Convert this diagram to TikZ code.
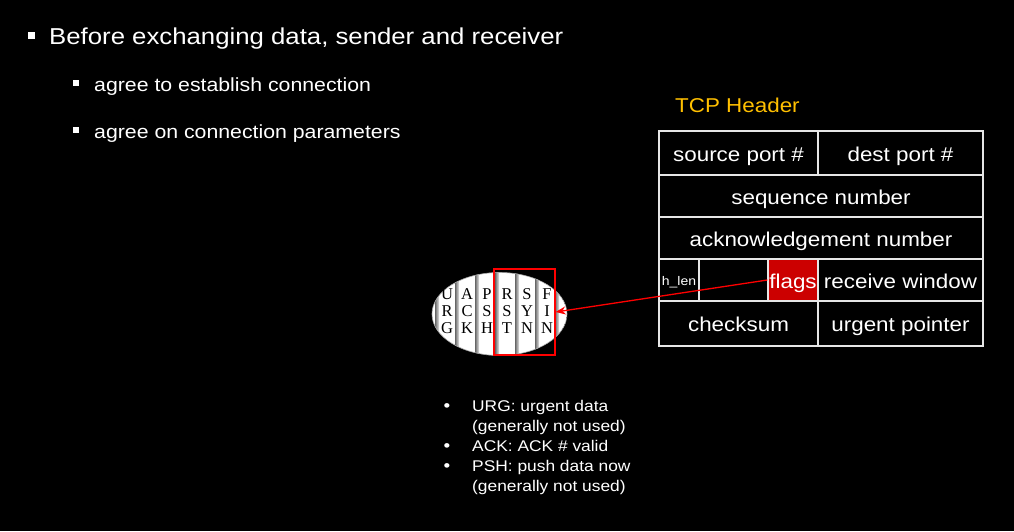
\documentclass[tikz,border=0pt]{standalone}
\usepackage{fontspec}
\setmainfont{Liberation Sans}[FakeStretch=1.12]
\newfontfamily\timesfont{Liberation Serif}
\usetikzlibrary{arrows.meta}
\definecolor{hdrorange}{HTML}{FFC000}
\definecolor{flagred}{HTML}{CC0000}
\definecolor{gridline}{HTML}{E6E6E6}
\begin{document}
\begin{tikzpicture}[x=1pt,y=-1pt,
  cell/.style={draw=gridline, line width=1.3pt, text=white, inner sep=0pt,
    text height=16pt, text depth=0pt,
    font=\fontsize{20}{24}\selectfont, anchor=center},
  letter/.style={font=\timesfont\fontsize{16.5}{17}\selectfont, text=black, inner sep=0pt},
  note/.style={text=white, font=\fontsize{15.5}{20}\selectfont, anchor=base west, inner sep=0pt},
  dot/.style={text=white, font=\fontsize{17}{20}\selectfont, anchor=base, inner sep=0pt}
]
\fill[black] (0,0) rectangle (1014,531);
\useasboundingbox (0,0) rectangle (1014,531);

% slide bullets
\fill[white] (28,32) rectangle (35,39);
\node[text=white, anchor=base west, inner sep=0pt, font=\fontsize{23}{28}\selectfont] (t1) at (49,44) {Before exchanging data, sender and receiver};
\fill[white] (73,80) rectangle (79,86);
\node[text=white, anchor=base west, inner sep=0pt, font=\fontsize{19}{24}\selectfont] (t2) at (94,91) {agree to establish connection};
\fill[white] (73,127) rectangle (79,133);
\node[text=white, anchor=base west, inner sep=0pt, font=\fontsize{19}{24}\selectfont] (t3) at (94,138) {agree on connection parameters};

% TCP header table
\node[text=hdrorange, anchor=base west, inner sep=0pt, font=\fontsize{20}{24}\selectfont] (hdr) at (675,112) {TCP Header};
\node[cell, minimum width=159pt, minimum height=44pt] (sp) at (738.5,153) {source port \#};
\node[cell, minimum width=165pt, minimum height=44pt] (dp) at (900.5,153) {dest port \#};
\node[cell, minimum width=324pt, minimum height=42pt] (seq) at (821,196) {sequence number};
\node[cell, minimum width=324pt, minimum height=42pt] (ack) at (821,238) {acknowledgement number};
\node[cell, minimum width=40pt, minimum height=42pt, text height=10pt, font=\fontsize{12.5}{14}\selectfont] (hlen) at (679,280) {h\_len};
\node[cell, minimum width=69pt, minimum height=42pt] (blank) at (733.5,280) {};
\node[cell, fill=flagred, minimum width=50pt, minimum height=42pt] (flags) at (793,280) {flags};
\node[cell, minimum width=165pt, minimum height=42pt] (rw) at (900.5,280) {receive window};
\node[cell, minimum width=159pt, minimum height=45pt] (cks) at (738.5,323.5) {checksum};
\node[cell, minimum width=165pt, minimum height=45pt] (urp) at (900.5,323.5) {urgent pointer};

% flag bits drawn as a striped ellipse
\begin{scope}
  \clip (499.5,314) ellipse [x radius=67.5, y radius=41.5];
  \fill[white] (499.5,314) ellipse [x radius=67.5, y radius=41.5];
  \foreach \x in {437,457,477,497,517,537,557} {
    \shade[left color=gray!80!black, right color=gray!20] (\x-2,262) rectangle (\x+2,362);
  }
\end{scope}
\draw[gray!70, line width=0.6pt] (499.5,314) ellipse [x radius=67.5, y radius=41.5];
\foreach \name/\x/\a/\b/\c in {urg/447/U/R/G, ackb/467/A/C/K, psh/487/P/S/H, rst/507/R/S/T, syn/527/S/Y/N, fin/547/F/I/N} {
  \node[letter] (\name1) at (\x,294) {\a};
  \node[letter] (\name2) at (\x,311.5) {\b};
  \node[letter] (\name3) at (\x,328.5) {\c};
}
\node[draw=red, line width=1.3pt, minimum width=61pt, minimum height=86pt, inner sep=0pt] (rbox) at (524.5,312) {};
\draw[red, line width=1.3pt, -{Stealth[length=10pt,width=8pt]}] (flags.west) -- (rbox.east);

% notes on the flag bits
\node[dot] (d1) at (447,411) {\textbullet};
\node[note] (n1a) at (472,411) {URG: urgent data};
\node[note] (n1b) at (472,431) {(generally not used)};
\node[dot] (d2) at (447,451) {\textbullet};
\node[note] (n2) at (472,451) {ACK: ACK \# valid};
\node[dot] (d3) at (447,471) {\textbullet};
\node[note] (n3a) at (472,471) {PSH: push data now};
\node[note] (n3b) at (472,491) {(generally not used)};
\end{tikzpicture}
\end{document}
